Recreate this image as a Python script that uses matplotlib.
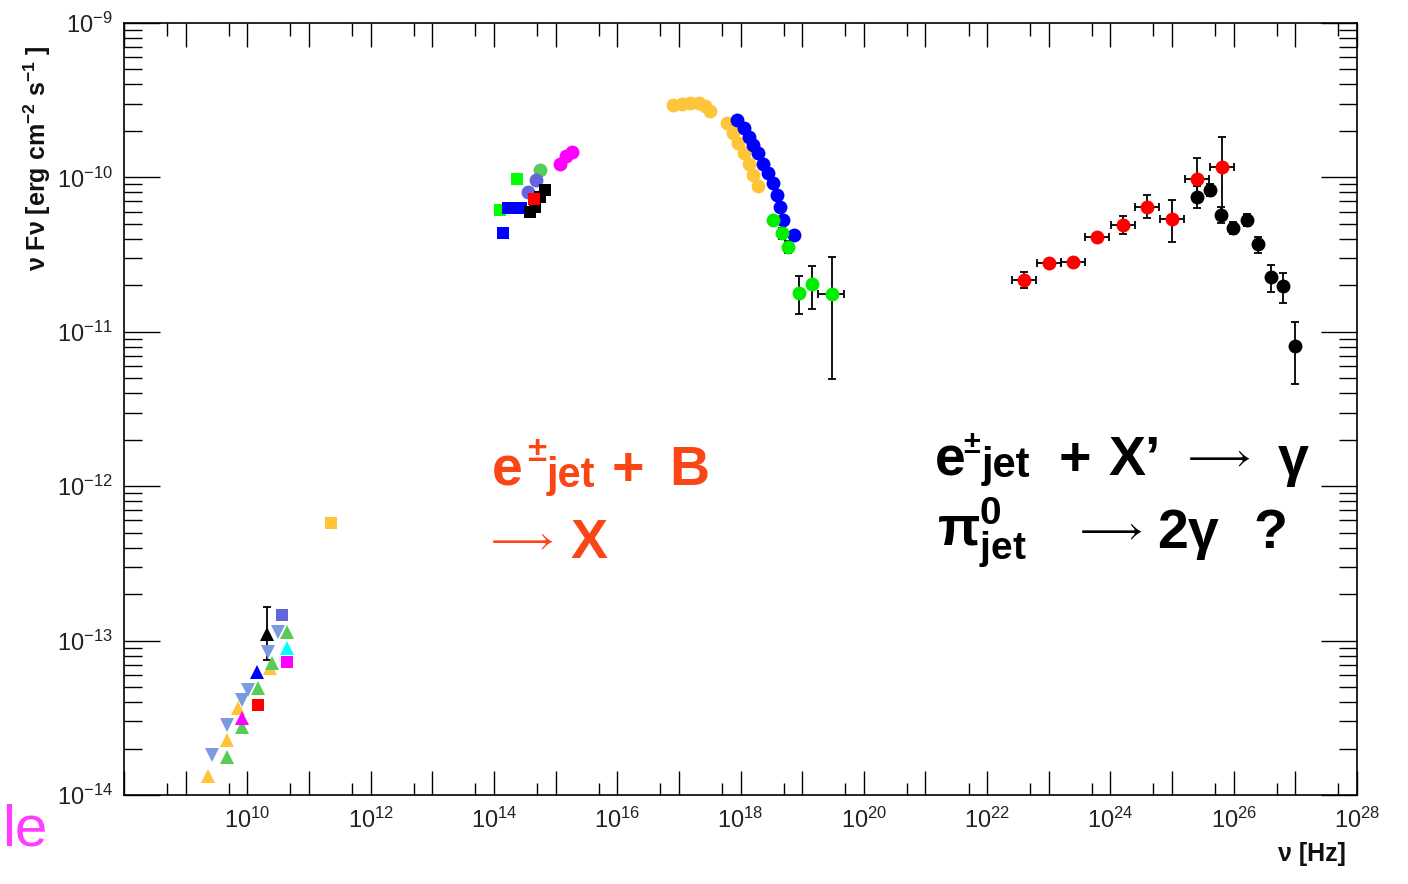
import numpy as np
import matplotlib
matplotlib.use('Agg')
from matplotlib import pyplot as plt
from matplotlib import ticker
from matplotlib import font_manager

# -------------------------------------------------------------------------------
# fonts

installed = {f.name for f in font_manager.fontManager.ttflist}
narrow = 'Liberation Sans Narrow' if 'Liberation Sans Narrow' in installed else 'Liberation Sans'

plt.rcParams['font.family'] = ['Liberation Sans', 'DejaVu Sans']
plt.rcParams['mathtext.fontset'] = 'custom'
plt.rcParams['mathtext.rm'] = 'Liberation Sans'
plt.rcParams['mathtext.it'] = 'Liberation Sans:italic'
plt.rcParams['mathtext.bf'] = 'Liberation Sans:bold'
plt.rcParams['mathtext.fallback'] = 'stixsans'

# -------------------------------------------------------------------------------
# data: nu / Hz, nu F_nu / erg cm-2 s-1

# radio
radio_yellow_x = [2.33e9, 4.63e9, 7.1e9, 2.33e10]
radio_yellow_y = [1.32e-14, 2.27e-14, 3.64e-14, 6.62e-14]
radio_grey_x = [2.65e9, 4.63e9, 8.1e9, 1.04e10, 2.19e10, 3.18e10]
radio_grey_y = [1.82e-14, 2.84e-14, 4.12e-14, 4.78e-14, 8.47e-14, 1.14e-13]
radio_green_x = [4.63e9, 8.1e9, 1.51e10, 2.49e10, 4.36e10]
radio_green_y = [1.77e-14, 2.77e-14, 4.91e-14, 7.13e-14, 1.14e-13]
radio_magenta_tri_x = [8.1e9]
radio_magenta_tri_y = [3.14e-14]
radio_magenta_sq_x = [4.36e10]
radio_magenta_sq_y = [7.3e-14]
radio_cyan_x = [4.36e10]
radio_cyan_y = [8.9e-14]
radio_blue_x = [1.42e10]
radio_blue_y = [6.3e-14]
radio_red_x = [1.51e10]
radio_red_y = [3.83e-14]
radio_purple_x = [3.6e10]
radio_purple_y = [1.47e-13]
radio_black_x = [2.07e10]
radio_black_y = [1.11e-13]
radio_black_ylo = [7.5e-14]
radio_black_yhi = [1.64e-13]

# mm
mm_x = [2.29e11]
mm_y = [5.78e-13]

# optical / IR
opt_blue_x = [1.41e14, 1.7e14, 2.19e14, 2.75e14]
opt_blue_y = [4.35e-11, 6.3e-11, 6.3e-11, 6.3e-11]
opt_green_sq_x = [1.26e14, 2.4e14]
opt_green_sq_y = [6.15e-11, 9.7e-11]
opt_black_x = [3.9e14, 4.7e14, 5.6e14, 6.8e14]
opt_black_y = [6.0e-11, 6.46e-11, 7.5e-11, 8.3e-11]
opt_red_x = [4.4e14]
opt_red_y = [7.3e-11]
opt_purple_x = [3.6e14, 4.9e14]
opt_purple_y = [8.1e-11, 9.6e-11]
opt_green_x = [5.6e14]
opt_green_y = [1.12e-10]
opt_magenta_x = [1.17e15, 1.48e15, 1.86e15]
opt_magenta_y = [1.23e-10, 1.38e-10, 1.46e-10]

# UV / X-ray
xr_yellow_x = [8.1e16, 1.12e17, 1.51e17, 2.09e17, 2.63e17, 3.24e17,
               6.03e17, 7.59e17, 9.12e17, 1.12e18, 1.35e18, 1.62e18, 1.95e18]
xr_yellow_y = [2.95e-10, 2.99e-10, 3.05e-10, 3.02e-10, 2.90e-10, 2.70e-10,
               2.24e-10, 1.93e-10, 1.66e-10, 1.43e-10, 1.23e-10, 1.04e-10, 8.8e-11]
xr_blue_x = [8.7e17, 1.12e18, 1.35e18, 1.62e18, 1.95e18, 2.34e18,
             2.82e18, 3.39e18, 3.89e18, 4.37e18, 4.9e18, 7.24e18]
xr_blue_y = [2.35e-10, 2.08e-10, 1.84e-10, 1.62e-10, 1.43e-10, 1.23e-10,
             1.06e-10, 9.2e-11, 7.7e-11, 6.46e-11, 5.3e-11, 4.24e-11]
xr_green_x = [3.4e18, 4.7e18, 6.0e18, 8.9e18, 1.45e19, 3.0e19]
xr_green_y = [5.3e-11, 4.35e-11, 3.56e-11, 1.79e-11, 2.04e-11, 1.77e-11]
xr_green_ylo = [5.3e-11, 4.0e-11, 3.25e-11, 1.30e-11, 1.40e-11, 4.94e-12]
xr_green_yhi = [5.3e-11, 4.7e-11, 3.9e-11, 2.30e-11, 2.67e-11, 3.06e-11]
xr_green_xlo = [3.4e18, 4.7e18, 6.0e18, 8.9e18, 1.45e19, 1.8e19]
xr_green_xhi = [3.4e18, 4.7e18, 6.0e18, 8.9e18, 1.45e19, 4.8e19]

# GeV (red)
gev_x = [3.98e22, 1.0e23, 2.51e23, 6.17e23, 1.62e24, 3.98e24, 1.0e25, 2.57e25, 6.46e25]
gev_y = [2.16e-11, 2.78e-11, 2.82e-11, 4.09e-11, 4.92e-11, 6.46e-11, 5.38e-11, 9.77e-11, 1.16e-10]
gev_ylo = [1.91e-11, 2.78e-11, 2.82e-11, 4.09e-11, 4.28e-11, 5.43e-11, 3.80e-11, 7.15e-11, 5.87e-11]
gev_yhi = [2.44e-11, 2.78e-11, 2.82e-11, 4.09e-11, 5.62e-11, 7.69e-11, 7.15e-11, 1.33e-10, 1.82e-10]
gev_xlo = [2.54e22, 6.38e22, 1.60e23, 3.94e23, 1.04e24, 2.54e24, 6.38e24, 1.64e25, 4.12e25]
gev_xhi = [6.24e22, 1.57e23, 3.94e23, 9.66e23, 2.54e24, 6.24e24, 1.57e25, 4.03e25, 1.01e26]

# TeV (black)
tev_x = [2.51e25, 4.17e25, 6.17e25, 9.77e25, 1.62e26, 2.51e26, 3.98e26, 6.31e26, 9.77e26]
tev_y = [7.5e-11, 8.28e-11, 5.71e-11, 4.68e-11, 5.30e-11, 3.70e-11, 2.27e-11, 1.99e-11, 8.09e-12]
tev_ylo = [6.37e-11, 7.57e-11, 5.06e-11, 4.28e-11, 4.85e-11, 3.22e-11, 1.80e-11, 1.54e-11, 4.59e-12]
tev_yhi = [8.83e-11, 9.06e-11, 6.44e-11, 5.12e-11, 5.80e-11, 4.13e-11, 2.71e-11, 2.39e-11, 1.15e-11]

# -------------------------------------------------------------------------------
# colours

YELLOW = '#ffc53a'
GREY = '#7b9be0'
LGREEN = '#58cc58'
GREEN = '#00ee00'
PURPLE = '#6464dc'

# -------------------------------------------------------------------------------
# figure

W, H = 1408, 884
fig = plt.figure(figsize=(W / 100, H / 100), dpi=100)
ax = fig.add_axes([124 / W, 1 - 795 / H, (1357 - 124) / W, (795 - 23) / H])
ax.set_xscale('log')
ax.set_yscale('log')
ax.set_xlim(1e8, 1e28)
ax.set_ylim(1e-14, 1e-9)


def pts(x, y, marker, color, size):
    ax.plot(x, y, ls='none', marker=marker, color=color, ms=size, mew=0, zorder=3)


def errs(x, y, ylo=None, yhi=None, xlo=None, xhi=None):
    x = np.array(x)
    y = np.array(y)
    yerr = None if ylo is None else [y - np.array(ylo), np.array(yhi) - y]
    xerr = None if xlo is None else [x - np.array(xlo), np.array(xhi) - x]
    ax.errorbar(x, y, yerr=yerr, xerr=xerr, fmt='none', ecolor='black',
                elinewidth=1.3, capsize=3, capthick=1.3, zorder=2)


# radio
pts(radio_yellow_x, radio_yellow_y, '^', YELLOW, 10)
pts(radio_grey_x, radio_grey_y, 'v', GREY, 10)
pts(radio_green_x, radio_green_y, '^', LGREEN, 10)
pts(radio_magenta_tri_x, radio_magenta_tri_y, '^', 'magenta', 10)
pts(radio_blue_x, radio_blue_y, '^', 'blue', 10)
pts(radio_red_x, radio_red_y, 's', 'red', 9)
pts(radio_cyan_x, radio_cyan_y, '^', 'cyan', 10)
pts(radio_magenta_sq_x, radio_magenta_sq_y, 's', 'magenta', 9)
pts(radio_purple_x, radio_purple_y, 's', PURPLE, 9)
errs(radio_black_x, radio_black_y, radio_black_ylo, radio_black_yhi)
pts(radio_black_x, radio_black_y, '^', 'black', 10)

pts(mm_x, mm_y, 's', YELLOW, 9)

# optical
pts(opt_green_sq_x, opt_green_sq_y, 's', '#00ff00', 9)
pts(opt_blue_x, opt_blue_y, 's', 'blue', 9)
pts(opt_magenta_x, opt_magenta_y, 'o', 'magenta', 10)
pts(opt_green_x, opt_green_y, 'o', LGREEN, 10)
pts(opt_purple_x, opt_purple_y, 'o', PURPLE, 10)
pts(opt_black_x, opt_black_y, 's', 'black', 9)
pts(opt_red_x, opt_red_y, 's', 'red', 9)

# X-ray
pts(xr_yellow_x, xr_yellow_y, 'o', YELLOW, 10)
pts(xr_blue_x, xr_blue_y, 'o', 'blue', 10)
errs(xr_green_x, xr_green_y, xr_green_ylo, xr_green_yhi, xr_green_xlo, xr_green_xhi)
pts(xr_green_x, xr_green_y, 'o', GREEN, 10)

# gamma
errs(gev_x, gev_y, gev_ylo, gev_yhi, gev_xlo, gev_xhi)
errs(tev_x, tev_y, tev_ylo, tev_yhi)
pts(tev_x, tev_y, 'o', 'black', 10)
pts(gev_x, gev_y, 'o', 'red', 10)

# -------------------------------------------------------------------------------
# axes style (ROOT-like)

for s in ax.spines.values():
    s.set_linewidth(1.2)

ax.xaxis.set_major_locator(ticker.LogLocator(base=10, subs=(1.0,), numticks=40))
ax.xaxis.set_minor_locator(ticker.LogLocator(base=10, subs=(5.0,), numticks=40))
ax.yaxis.set_major_locator(ticker.LogLocator(base=10, subs=(1.0,), numticks=20))
ax.yaxis.set_minor_locator(ticker.LogLocator(base=10, subs=np.arange(2, 10), numticks=20))


def xfmt(v, pos):
    e = int(round(np.log10(v)))
    if e % 2 == 0 and e > 8:
        return r'$\mathdefault{10^{%d}}$' % e
    return ''


def yfmt(v, pos):
    e = int(round(np.log10(v)))
    return r'$\mathdefault{10^{%d}}$' % e


ax.xaxis.set_major_formatter(ticker.FuncFormatter(xfmt))
ax.yaxis.set_major_formatter(ticker.FuncFormatter(yfmt))
ax.xaxis.set_minor_formatter(ticker.NullFormatter())
ax.yaxis.set_minor_formatter(ticker.NullFormatter())

ax.tick_params(axis='x', which='major', direction='in', top=True, length=17, width=1, pad=9)
ax.tick_params(axis='x', which='minor', direction='in', top=True, length=9, width=1)
ax.tick_params(axis='y', which='major', direction='in', right=True, length=26, width=1, pad=8)
ax.tick_params(axis='y', which='minor', direction='in', right=True, length=13, width=1)
for lab in ax.get_xticklabels() + ax.get_yticklabels():
    lab.set_fontfamily(narrow)
    lab.set_fontsize(17)
    lab.set_color('#222222')


def px(x, y):
    return x / W, 1 - y / H


def word(x, y, s, size, color, weight='bold'):
    # one piece of the slide annotations, left edge x and baseline y in pixels
    fig.text(*px(x, y), s, fontsize=size, fontweight=weight, color=color,
             ha='left', va='baseline')


# axis titles
fig.text(*px(37, 45), r'ν Fν [erg cm$^{\mathbf{-2}}$ s$^{\mathbf{-1}}$ ]', rotation=90,
         ha='center', va='top', fontsize=18, fontweight='bold', color='#111111')
fig.text(*px(1346, 861), 'ν [Hz]', ha='right', va='baseline', fontsize=18,
         fontweight='bold', color='#111111')

# annotations (slide text laid over the plot)
RED_TXT = '#fa4616'
ARROW = '$⟶$'
BIG, SUP, SUB, ARR = 40, 25, 30, 29

word(492, 485, 'e', BIG, RED_TXT)
word(527, 461, '±', SUP, RED_TXT)
word(547, 487, 'jet', SUB, RED_TXT)
word(612, 485, '+', BIG, RED_TXT)
word(669, 485, 'B', BIG, RED_TXT)
word(490, 550, ARROW, ARR, RED_TXT, weight='normal')
word(571, 558, 'X', BIG, RED_TXT)

word(935, 475, 'e', BIG, 'black')
word(963, 453, '±', 22, 'black')
word(982, 477, 'jet', SUB, 'black')
word(1059, 475, '+', BIG, 'black')
word(1109, 475, 'X’', BIG, 'black')
word(1187, 467, ARROW, ARR, 'black', weight='normal')
word(1278, 475, 'γ', BIG, 'black')

word(937, 546, r'π$^{\mathbf{0}}_{\mathbf{jet}}$', BIG, 'black')
word(1079, 540, ARROW, ARR, 'black', weight='normal')
word(1157, 548, '2γ', BIG, 'black')
word(1253, 548, '?', BIG, 'black')

# leftover slide text
fig.text(*px(2, 846), 'le', fontsize=42, color='#ff3cff', va='baseline')

fig.savefig('out.png', dpi=100)
